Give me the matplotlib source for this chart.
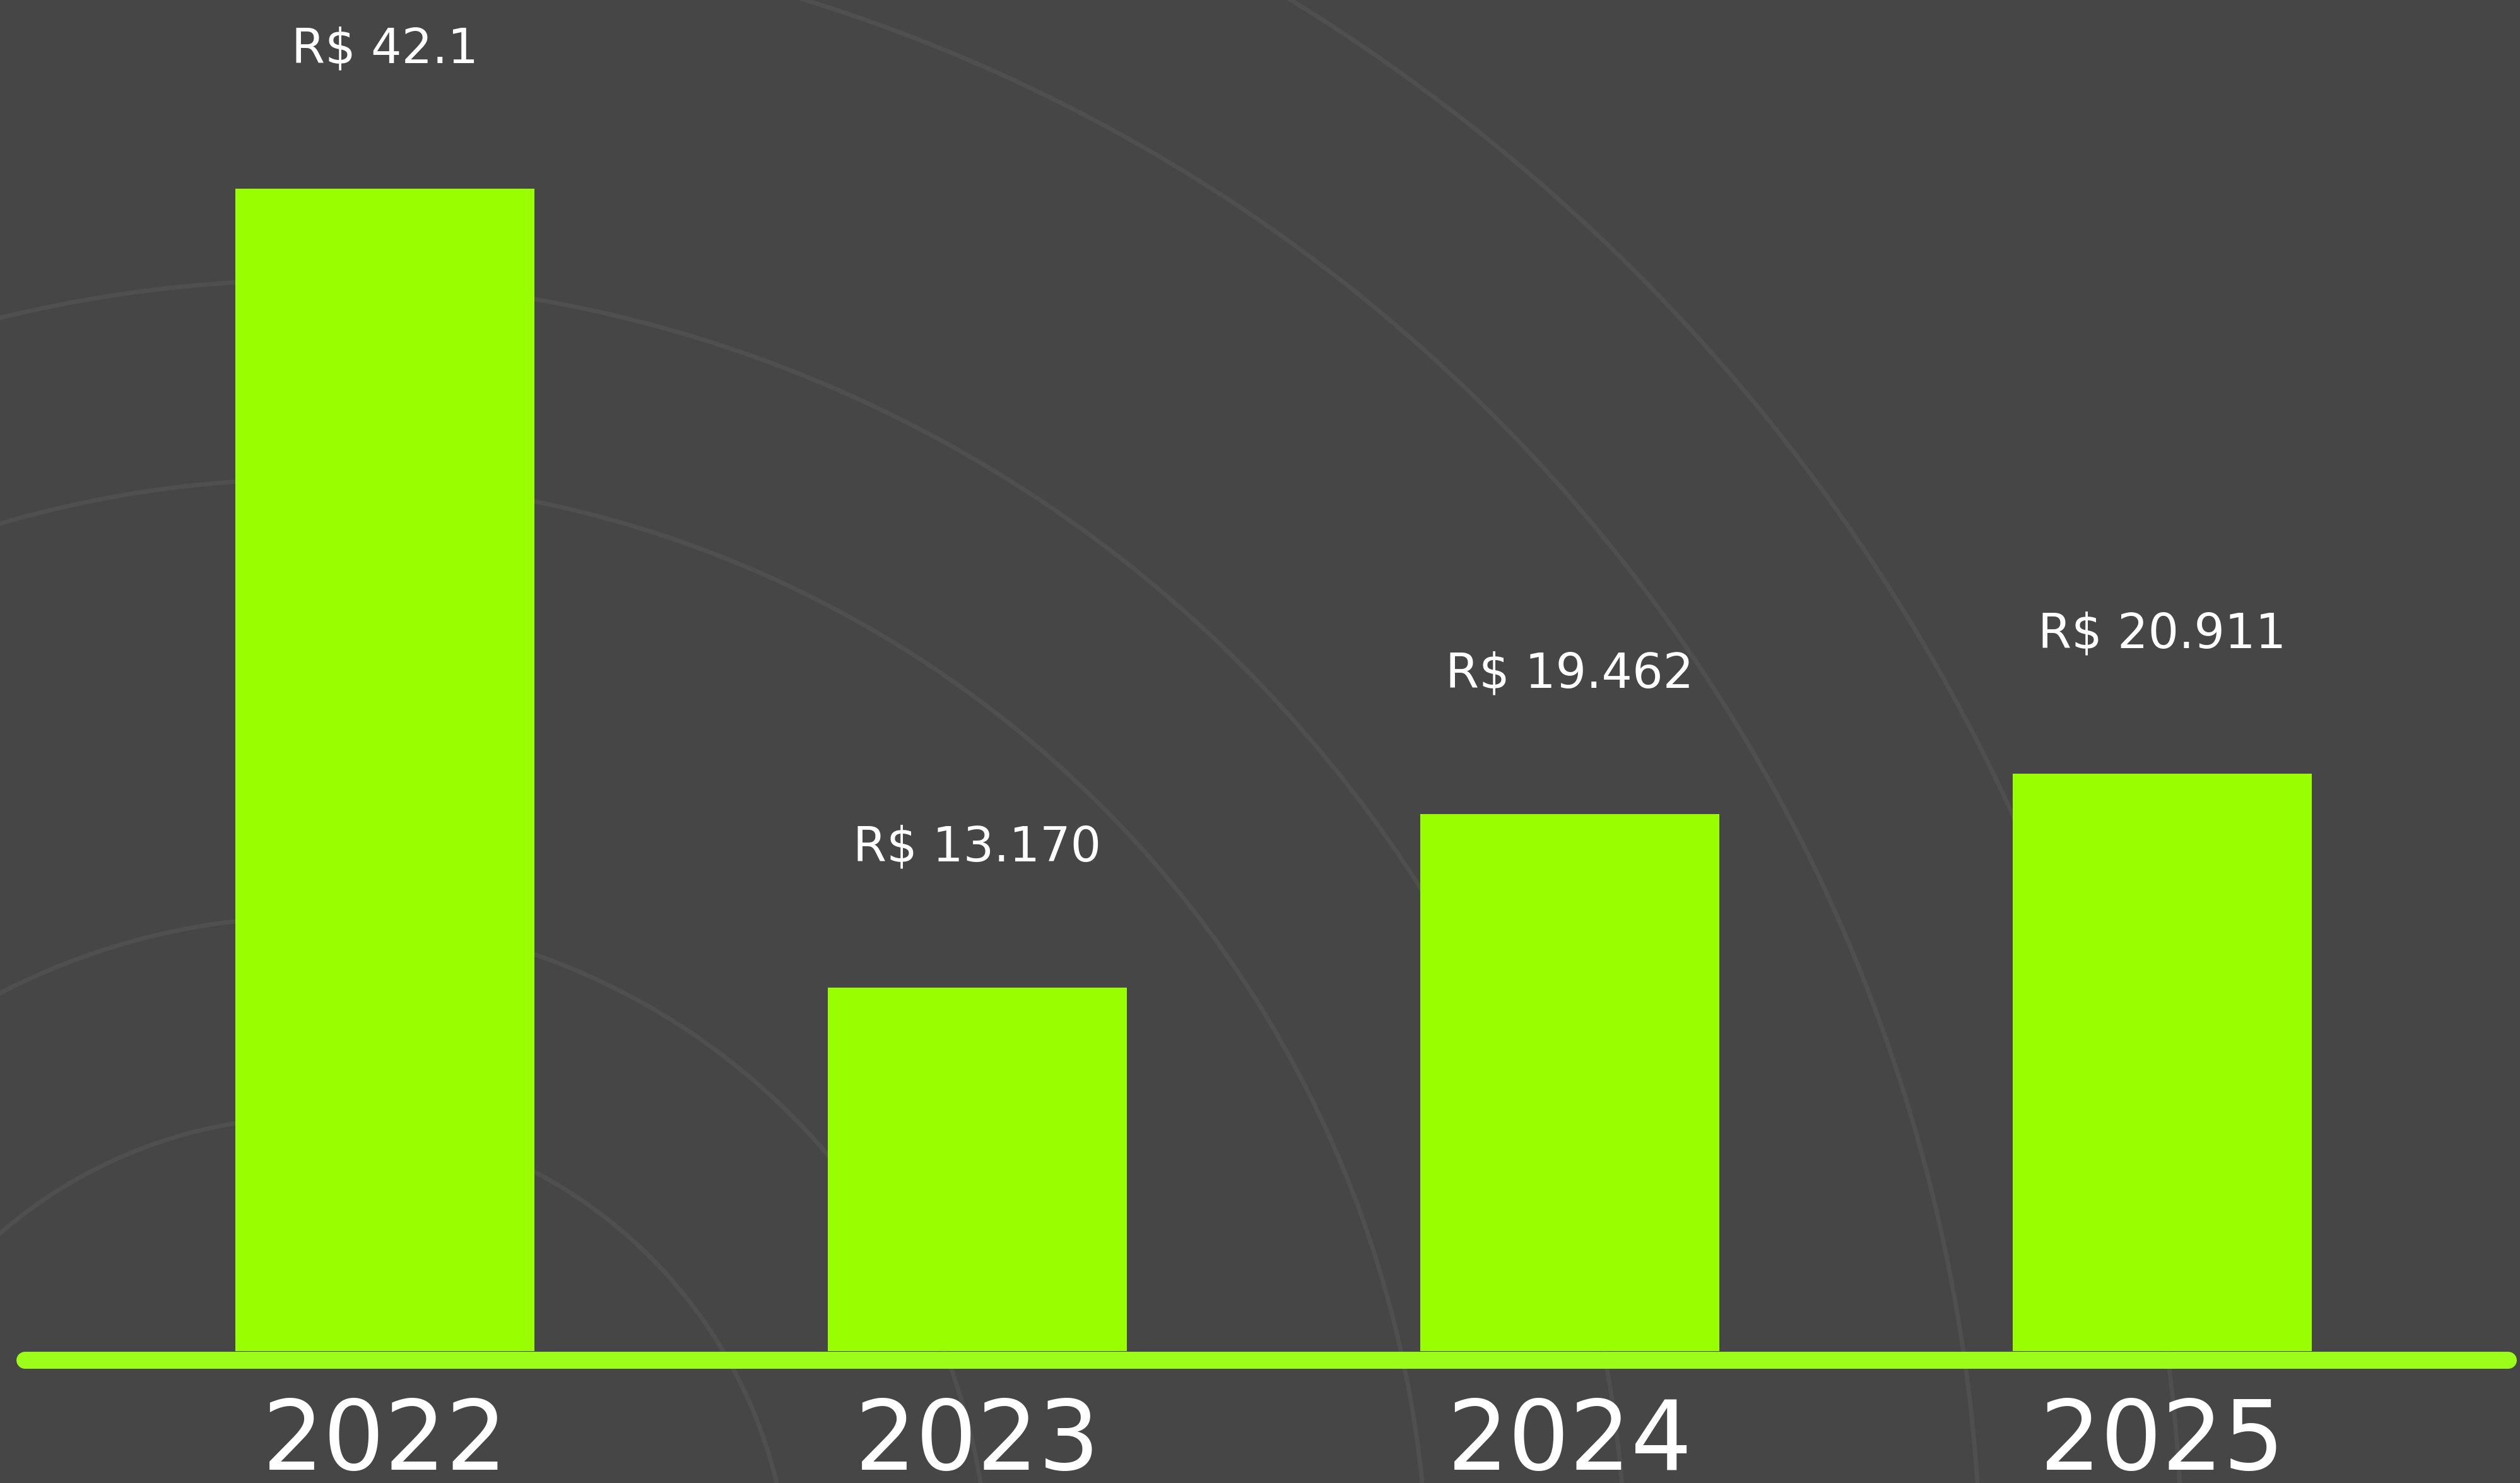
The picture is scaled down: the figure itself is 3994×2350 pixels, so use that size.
import matplotlib
matplotlib.use('Agg')
import matplotlib.pyplot as plt
from matplotlib.patches import Circle

# dados do grafico
years = ['2022', '2023', '2024', '2025']
values = [42.1, 13.170, 19.462, 20.911]
value_labels = ['R$ 42.1', 'R$ 13.170', 'R$ 19.462', 'R$ 20.911']

bg_color = '#464646'
bar_color = '#99ff00'
line_color = '#9cfc1a'
ring_color = '#4f4f4f'

W, H = 3994, 2350
fig = plt.figure(figsize=(W / 100, H / 100), dpi=100)
fig.patch.set_facecolor(bg_color)

# aneis de fundo (decoracao), em coordenadas de pixel
bg_ax = fig.add_axes([0, 0, 1, 1])
bg_ax.set_xlim(0, W)
bg_ax.set_ylim(H, 0)
bg_ax.set_facecolor(bg_color)
bg_ax.axis('off')
for r in [757, 1074, 1768, 2083, 2645, 2965]:
    bg_ax.add_patch(Circle((495, 2527), r, fill=False, ec=ring_color, lw=5))

# grafico de barras
ax = fig.add_axes([0, 0, 1, 1])
ax.patch.set_alpha(0)
x = list(range(len(years)))
ax.bar(x, values, width=0.505, color=bar_color, zorder=2)
ax.set_xlim(-0.6496, 3.6038)
ax.set_ylim(-4.777, 48.94)
ax.axis('off')

# linha de base arredondada
ax.plot([-0.608, 3.5836], [-0.32, -0.32], color=line_color, lw=19.4,
        solid_capstyle='round', zorder=3)

for i, v in enumerate(values):
    ax.text(x[i], v + 4.57, value_labels[i], ha='center', va='baseline',
            fontsize=55, color='white', family='DejaVu Sans')
    ax.text(x[i], -4.3, years[i], ha='center', va='baseline',
            fontsize=110, color='white', family='DejaVu Sans')

fig.savefig('out.png', dpi=100, facecolor=bg_color)
